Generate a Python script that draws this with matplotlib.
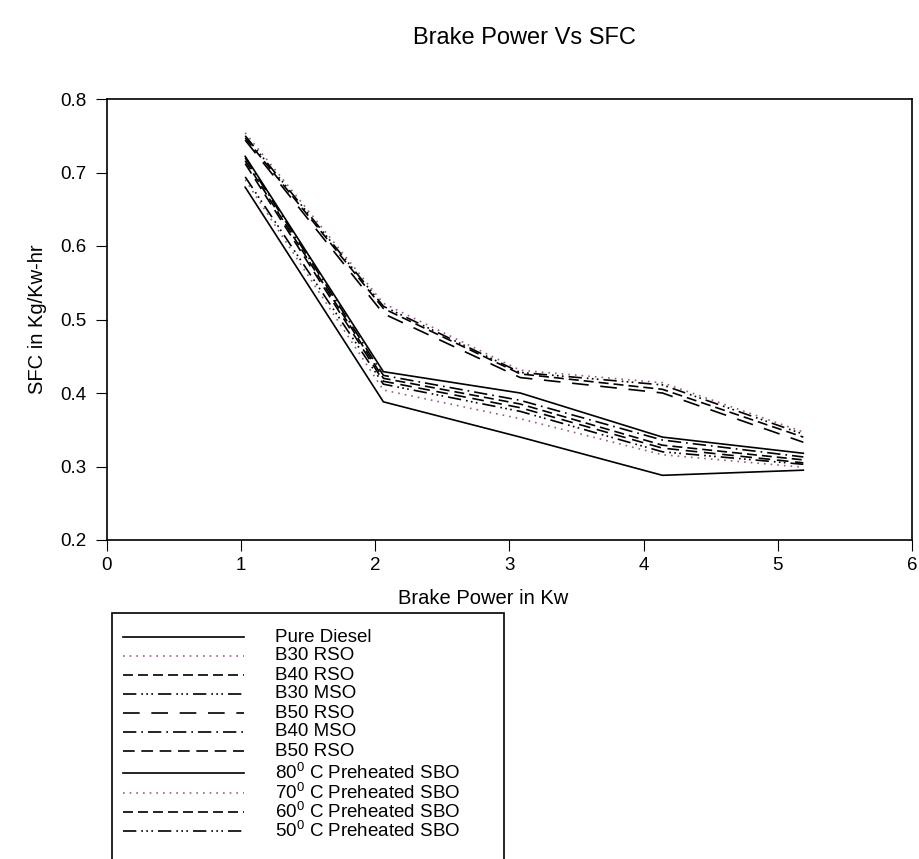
import matplotlib
matplotlib.use("Agg")
import matplotlib.pyplot as plt
from matplotlib.lines import Line2D
from matplotlib.patches import Rectangle

plt.rcParams['font.family'] = ['Liberation Sans', 'DejaVu Sans']
plt.rcParams['mathtext.fontset'] = 'custom'
plt.rcParams['mathtext.rm'] = 'Liberation Sans'
plt.rcParams['mathtext.default'] = 'regular'

# brake power (kW) at the five load steps
power = [1.03, 2.06, 3.08, 4.14, 5.19]

# SFC in kg/kW-hr
pure_diesel = [0.680, 0.388, 0.340, 0.288, 0.295]
b30_rso = [0.690, 0.404, 0.365, 0.316, 0.299]
b40_rso = [0.716, 0.420, 0.385, 0.329, 0.309]
b30_mso = [0.694, 0.412, 0.375, 0.320, 0.303]
b50_rso_a = [0.744, 0.508, 0.421, 0.400, 0.333]
b40_mso = [0.720, 0.424, 0.390, 0.336, 0.313]
b50_rso_b = [0.712, 0.416, 0.380, 0.325, 0.305]
sbo_80 = [0.722, 0.429, 0.400, 0.340, 0.318]
sbo_70 = [0.754, 0.522, 0.431, 0.414, 0.347]
sbo_60 = [0.747, 0.515, 0.426, 0.405, 0.340]
sbo_50 = [0.750, 0.518, 0.428, 0.411, 0.344]

labels = ['Pure Diesel', 'B30 RSO', 'B40 RSO', 'B30 MSO', 'B50 RSO', 'B40 MSO',
          'B50 RSO', '80$^0$ C Preheated SBO', '70$^0$ C Preheated SBO',
          '60$^0$ C Preheated SBO', '50$^0$ C Preheated SBO']
series = [pure_diesel, b30_rso, b40_rso, b30_mso, b50_rso_a, b40_mso,
          b50_rso_b, sbo_80, sbo_70, sbo_60, sbo_50]

dot_col = '#9a5a90'
styles = [
    ('-', 'black'),
    ((0, (1, 3)), dot_col),
    ((0, (6, 3)), 'black'),
    ((0, (8, 3, 1, 2, 1, 2, 1, 3)), 'black'),
    ((0, (10, 7)), 'black'),
    ((0, (8, 3, 1, 3)), 'black'),
    ((0, (7, 4)), 'black'),
    ('-', 'black'),
    ((0, (1, 3)), dot_col),
    ((0, (6, 3)), 'black'),
    ((0, (8, 3, 1, 2, 1, 2, 1, 3)), 'black'),
]

W, H = 920, 859
fig = plt.figure(figsize=(9.2, 8.59), dpi=100)
ax = fig.add_axes([107 / W, 1 - 540 / H, 805 / W, 441 / H])

for vals, (ls, col) in zip(series, styles):
    ax.plot(power, vals, linestyle=ls, color=col, linewidth=1.2)

ax.set_xlim(0, 6)
ax.set_ylim(0.2, 0.8)
ax.set_xticks(range(0, 7))
ax.set_yticks([0.2, 0.3, 0.4, 0.5, 0.6, 0.7, 0.8])
ax.set_yticklabels(['0.2', '0.3', '0.4', '0.5', '0.6', '0.7', '0.8'])
ax.tick_params(direction='out', length=8, labelsize=13.5, top=False, right=False)
ax.tick_params(axis='y', pad=7)
ax.tick_params(axis='x', pad=4)
for sp in ax.spines.values():
    sp.set_linewidth(1.2)

ax.set_xlabel('Brake Power in Kw', fontsize=14.5)
ax.xaxis.set_label_coords((483 - 107) / 805, -0.11)
ax.set_ylabel('SFC in Kg/Kw-hr', fontsize=14.5)
ax.yaxis.set_label_coords(-0.075, 0.5)

fig.text(524 / W, 1 - 38 / H, 'Brake Power Vs SFC', ha='center', va='center', fontsize=17)

# legend box, drawn by hand; its frame runs off the bottom of the picture
fig.patches.append(Rectangle((112 / W, -0.05), 392 / W, 1 - 613 / H + 0.05,
                             transform=fig.transFigure, fill=False,
                             edgecolor='black', linewidth=1.2))
row_y = [637, 656, 675, 694, 713, 732, 751, 773, 793, 812, 831]
for lab, (ls, col), yy in zip(labels, styles, row_y):
    fy = 1 - yy / H
    fig.add_artist(Line2D([123 / W, 244 / W], [fy, fy], transform=fig.transFigure,
                          linestyle=ls, color=col, linewidth=1.2))
    fig.text(275 / W, fy, lab, ha='left', va='center', fontsize=13.5)

fig.savefig('out.png', dpi=100)
